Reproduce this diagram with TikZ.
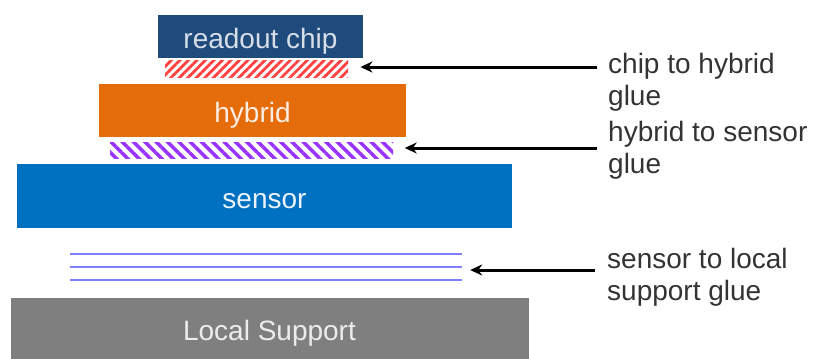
\documentclass[tikz,border=0pt]{standalone}
\usepackage{fontspec}
\setmainfont{Liberation Sans}
\usetikzlibrary{arrows.meta, patterns.meta}
\definecolor{chipblue}{HTML}{1F4A7C}
\definecolor{hybridorange}{HTML}{E46C0A}
\definecolor{sensorblue}{HTML}{0070C0}
\definecolor{supportgray}{HTML}{7F7F7F}
\definecolor{gluered}{HTML}{FF4040}
\definecolor{gluepurple}{HTML}{9933FF}
\definecolor{glueblue}{HTML}{8080FF}
\definecolor{labelgray}{HTML}{333333}
\begin{document}
\begin{tikzpicture}[x=1pt, y=-1pt,
    layer/.style={inner sep=0pt, font=\fontsize{28}{32}\selectfont,
      text height=26pt, text depth=2pt},
    gluelayer/.style={inner sep=0pt},
    gluelabel/.style={anchor=base west, inner sep=0pt, align=left,
      text=labelgray, font=\fontsize{28}{32}\selectfont},
    gluearrow/.style={line width=3pt, -{Stealth[length=12pt, width=11pt]}}]
  \useasboundingbox (0,0) rectangle (815,359);
  \node[layer, fill=chipblue, text=white!82!chipblue,
    minimum width=205pt, minimum height=43pt] (chip) at (260.5,36.5) {readout chip};
  \node[gluelayer, minimum width=183pt, minimum height=17pt,
    pattern={Lines[angle=45, distance=6pt, line width=2.8pt]},
    pattern color=gluered] (chipglue) at (256.5,68.5) {};
  \node[layer, fill=hybridorange, text=white!88!hybridorange,
    minimum width=307pt, minimum height=53pt] (hybrid) at (252.5,110.5) {hybrid};
  \node[gluelayer, minimum width=283pt, minimum height=16pt,
    pattern={Lines[angle=-45, distance=8pt, line width=3.5pt]},
    pattern color=gluepurple] (hybridglue) at (251.5,150) {};
  \node[layer, fill=sensorblue, text=white!92!sensorblue,
    minimum width=495pt, minimum height=64pt] (sensor) at (264.5,196) {sensor};
  \node[gluelayer, minimum width=392pt, minimum height=26pt] (sensorglue) at (266,267) {};
  \draw[glueblue, line width=2pt] (sensorglue.north west) -- (sensorglue.north east)
    (sensorglue.west) -- (sensorglue.east)
    (sensorglue.south west) -- (sensorglue.south east);
  \node[layer, fill=supportgray, text=white!85!supportgray,
    minimum width=518pt, minimum height=61pt] (support) at (269.5,328.5) {Local Support};

  \node[gluelabel] (chiplbl) at (608,105) {chip to hybrid\\glue};
  \node[gluelabel] (hybridlbl) at (608,173.5) {hybrid to sensor\\glue};
  \node[gluelabel] (sensorlbl) at (607,300) {sensor to local\\support glue};
  \draw[gluearrow, shorten <=11pt, shorten >=11pt]
    ([yshift=1.5pt]chiplbl.west |- chipglue.east) -- ([yshift=1.5pt]chipglue.east);
  \draw[gluearrow, shorten <=11pt, shorten >=10pt]
    ([yshift=2pt]hybridlbl.west |- hybridglue.east) -- ([yshift=2pt]hybridglue.east);
  \draw[gluearrow, shorten <=12pt, shorten >=8pt]
    ([yshift=-3pt]sensorlbl.west |- sensorglue.east) -- ([yshift=-3pt]sensorglue.east);
\end{tikzpicture}
\end{document}
